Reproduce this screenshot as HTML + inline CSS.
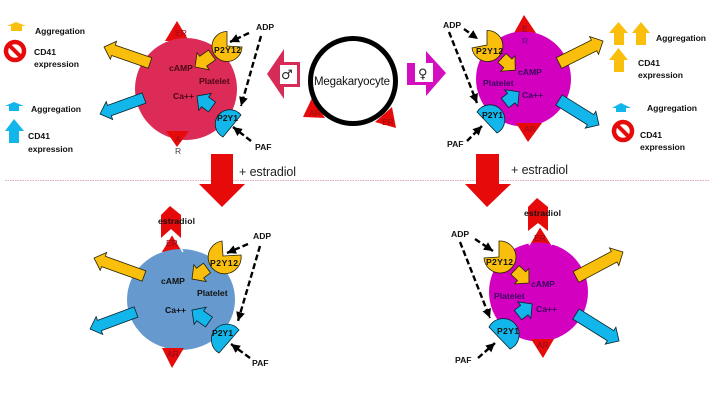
<!DOCTYPE html>
<html><head><meta charset="utf-8"><style>
html,body{margin:0;padding:0;background:#fff}
svg{display:block;font-family:"Liberation Sans",sans-serif}
.b{font-weight:bold;font-size:8.6px;fill:#111}
.m{font-weight:bold;font-size:8.6px}
.y{fill:#F9BF0C;stroke:#2a2200;stroke-width:.8}
.c{fill:#12B6EA;stroke:#06222e;stroke-width:.8}
.d{fill:none;stroke:#000;stroke-width:2.4;stroke-dasharray:6 3;marker-end:url(#h)}
.t{fill:#E60A0A}
</style></head><body>
<svg width="720" height="404" viewBox="0 0 720 404" xmlns="http://www.w3.org/2000/svg">
<defs><marker id="h" markerUnits="userSpaceOnUse" markerWidth="10" markerHeight="10" refX="9" refY="4.5" orient="auto"><path d="M0,0L9,4.5L0,9z" fill="#000"/></marker></defs>
<rect width="720" height="404" fill="#fff"/>
<line x1="5" y1="180.5" x2="709" y2="180.5" stroke="#D8939F" stroke-width=".8" stroke-dasharray="1.5 1"/>

<!-- central red arrows -->
<polygon class="t" points="211,154 233,154 233,184 245,184 222,207 199,184 211,184"/>
<polygon class="t" points="476,154 499,154 499,184 511,184 487,207 465,184 476,184"/>
<text x="239" y="176" font-size="12.5" fill="#222" textLength="57">+ estradiol</text>
<text x="511" y="174" font-size="12.5" fill="#222" textLength="57">+ estradiol</text>

<!-- Megakaryocyte -->
<polygon class="t" points="303,117 312,98 325,118"/>
<polygon class="t" points="396,128 392,107 375,122"/>
<circle cx="353" cy="81" r="42.5" fill="#fff" stroke="#000" stroke-width="5"/>
<text x="314" y="85" font-size="11.5" fill="#111" textLength="76">Megakaryocyte</text>
<text x="309" y="116" font-size="8.5" fill="#9c0a0a">AR</text>
<text x="382" y="125" font-size="8.5" fill="#9c0a0a">ER</text>

<polygon fill="#D62B57" points="267,74 284,49 284,62 300,62 300,87 284,87 284,99"/>
<rect x="280" y="65" width="17" height="19" fill="#fff"/>
<text x="281" y="79" font-size="13" fill="#222" font-family="DejaVu Sans">♂</text>
<polygon fill="#D40FC0" points="446,73 426,51 426,63 407,63 407,85 426,85 426,96"/>
<rect x="415" y="63" width="18" height="19" fill="#fff"/>
<text x="418" y="78" font-size="13" fill="#222" font-family="DejaVu Sans">♀</text>

<!-- TOP LEFT -->
<polygon class="t" points="177,21 165,41 189,41"/>
<circle cx="186" cy="89" r="51" fill="#DC2B57"/>
<polygon class="t" points="177,147 166,131 189,131"/>
<text x="175" y="36" font-size="8.6" fill="#9c0a20">ER</text>
<text x="175" y="142" font-size="8.6" fill="#9c0a20">A</text>
<text x="175" y="154" font-size="8.5" fill="#444">R</text>
<polygon class="y" transform="translate(150,63) rotate(199.2)" points="0,-5.5 38.7,-5.5 38.7,-9.5 48.7,0 38.7,9.5 38.7,5.5 0,5.5"/>
<polygon class="c" transform="translate(144,98) rotate(160)" points="0,-5.5 36.8,-5.5 36.8,-9.5 46.8,0 36.8,9.5 36.8,5.5 0,5.5"/>
<polygon class="y" transform="translate(212,55) rotate(144.8)" points="0,-6 10.8,-6 10.8,-10.5 20.8,0 10.8,10.5 10.8,6 0,6"/>
<polygon class="c" transform="translate(212,107) rotate(216.3)" points="0,-6 8.6,-6 8.6,-10.5 18.6,0 8.6,10.5 8.6,6 0,6"/>
<path class="y" d="M227,46 L227,31.5 A15,15 0 1 0 242,47 Z"/>
<path class="c" d="M241,115 A14.5,14.5 0 1 0 223,137 Z"/>
<line class="d" x1="249" y1="33" x2="230" y2="42"/>
<line class="d" x1="261" y1="36" x2="241" y2="106"/>
<line class="d" x1="251" y1="141" x2="233" y2="127"/>
<text x="169" y="71" class="m" fill="#4a0616">cAMP</text>
<text x="199" y="84" class="m" fill="#4a0616">Platelet</text>
<text x="173" y="99" class="m" fill="#4a0616">Ca++</text>
<text x="214" y="53" class="b" textLength="27">P2Y12</text>
<text x="217" y="121" class="b" textLength="21">P2Y1</text>
<text x="256" y="30" class="b">ADP</text>
<text x="255" y="150" class="b">PAF</text>

<!-- legend left -->
<polygon fill="#F9BF0C" points="16,22 26,26 22,26 22,31 11,31 11,26 7,26"/>
<text x="35" y="34" class="b" textLength="50">Aggregation</text>
<circle cx="15" cy="51" r="9" fill="#fff" stroke="#E60A0A" stroke-width="4.5"/>
<line x1="9" y1="45" x2="21" y2="57" stroke="#E60A0A" stroke-width="4"/>
<text x="34" y="55" class="b">CD41</text>
<text x="34" y="67" class="b" textLength="45">expression</text>
<polygon fill="#12B6EA" points="14,102 24,106 19,106 19,111 9,111 9,106 5,106"/>
<text x="31" y="112" class="b" textLength="50">Aggregation</text>
<polygon fill="#12B6EA" points="14,119 24,131 19,131 19,143 9,143 9,131 5,131"/>
<text x="28" y="139" class="b">CD41</text>
<text x="28" y="152" class="b" textLength="45">expression</text>

<!-- TOP RIGHT -->
<polygon class="t" points="524,15 514,33 536,33"/>
<circle cx="523.5" cy="79" r="47.5" fill="#D300BF"/>
<polygon class="t" points="528,142 516,123 542,123"/>
<text x="522" y="32" font-size="8.5" fill="#8a0a40">E</text>
<text x="522" y="44" font-size="8.5" fill="#5a0a80">R</text>
<text x="524" y="132" font-size="8.5" fill="#9c0a20">AR</text>
<polygon class="y" transform="translate(559,63) rotate(-26.6)" points="0,-6 39.2,-6 39.2,-10 49.2,0 39.2,10 39.2,6 0,6"/>
<polygon class="c" transform="translate(559,100) rotate(32)" points="0,-6 37.2,-6 37.2,-10 47.2,0 37.2,10 37.2,6 0,6"/>
<polygon class="y" transform="translate(502,58) rotate(42.7)" points="0,-6 8,-6 8,-10.5 18,0 8,10.5 8,6 0,6"/>
<polygon class="c" transform="translate(505,103) rotate(-38.2)" points="0,-6 8,-6 8,-10.5 18,0 8,10.5 8,6 0,6"/>
<path class="y" d="M487,45 L487,30.5 A15.5,15.5 0 1 1 472,48 Z"/>
<path class="c" d="M477,112 A15,15 0 1 1 497,133 Z"/>
<line class="d" x1="464" y1="29" x2="478" y2="39"/>
<line class="d" x1="449" y1="32" x2="477" y2="103"/>
<line class="d" x1="467" y1="141" x2="482" y2="126"/>
<text x="518" y="75" class="m" fill="#3a0060">cAMP</text>
<text x="483" y="86" class="m" fill="#3a0060">Platelet</text>
<text x="522" y="98" class="m" fill="#3a0060">Ca++</text>
<text x="476" y="54" class="b" textLength="27">P2Y12</text>
<text x="482" y="118" class="b" textLength="21">P2Y1</text>
<text x="443" y="28" class="b">ADP</text>
<text x="447" y="147" class="b">PAF</text>

<!-- legend right -->
<polygon fill="#F9BF0C" points="618.5,22 628,33 624,33 624,45 614,45 614,33 609,33"/>
<polygon fill="#F9BF0C" points="641,22 650,33 646,33 646,45 636,45 636,33 632,33"/>
<polygon fill="#F9BF0C" points="618.5,48 628,60 624,60 624,72 614,72 614,60 609,60"/>
<text x="656" y="41" class="b" textLength="50">Aggregation</text>
<text x="638" y="66" class="b">CD41</text>
<text x="638" y="78" class="b" textLength="45">expression</text>
<polygon fill="#12B6EA" points="621,103 631,108 626,108 626,112 616,112 616,108 612,108"/>
<text x="647" y="111" class="b" textLength="50">Aggregation</text>
<circle cx="623" cy="131" r="9" fill="#fff" stroke="#E60A0A" stroke-width="4.5"/>
<line x1="617" y1="125" x2="629" y2="137" stroke="#E60A0A" stroke-width="4"/>
<text x="640" y="138" class="b">CD41</text>
<text x="640" y="150" class="b" textLength="45">expression</text>

<!-- BOTTOM LEFT -->
<polygon class="t" points="172,234 161,252 183,252"/>
<ellipse cx="181" cy="299.5" rx="54" ry="50.5" fill="#6699CE"/>
<polygon class="t" points="172,368 162,348 184,348"/>
<polygon class="t" points="170,206 181,215 181,238 171,229 161,238 161,215"/>
<polyline points="161,252 172,234 183,252" fill="none" stroke="#fff" stroke-width="1.5"/>
<text x="158" y="224" class="b" textLength="37">estradiol</text>
<text x="166" y="246" font-size="8.5" fill="#8a0a20">ER</text>
<text x="167" y="357" font-size="8.5" fill="#8a0a20">AR</text>
<polygon class="y" transform="translate(144,276) rotate(199.8)" points="0,-5.5 43.1,-5.5 43.1,-9.5 53.1,0 43.1,9.5 43.1,5.5 0,5.5"/>
<polygon class="c" transform="translate(136,312) rotate(159.7)" points="0,-5.5 39,-5.5 39,-9.5 49,0 39,9.5 39,5.5 0,5.5"/>
<polygon class="y" transform="translate(207,268) rotate(143.7)" points="0,-6 8.6,-6 8.6,-10.5 18.6,0 8.6,10.5 8.6,6 0,6"/>
<polygon class="c" transform="translate(209,322) rotate(215)" points="0,-6 10.8,-6 10.8,-10.5 20.8,0 10.8,10.5 10.8,6 0,6"/>
<path class="y" d="M223,256 L222,241 A16.5,16.5 0 1 0 241,255 Z"/>
<path class="c" d="M239,330 A15.5,15.5 0 1 0 219,353 Z"/>
<line class="d" x1="248" y1="244" x2="227" y2="253"/>
<line class="d" x1="260" y1="246" x2="238" y2="321"/>
<line class="d" x1="250" y1="358" x2="231" y2="344"/>
<text x="161" y="284" class="b">cAMP</text>
<text x="197" y="296" class="b">Platelet</text>
<text x="165" y="313" class="b">Ca++</text>
<text x="210" y="266" class="b" textLength="28">P2Y12</text>
<text x="212" y="336" class="b" textLength="21">P2Y1</text>
<text x="253" y="239" class="b">ADP</text>
<text x="252" y="366" class="b">PAF</text>

<!-- BOTTOM RIGHT -->
<polygon class="t" points="540,226 529,245 552,245"/>
<circle cx="538.5" cy="292" r="49.5" fill="#D300BF"/>
<polygon class="t" points="543,358 531,339 554,339"/>
<polygon class="t" points="537,198 548,207 548,231 538,223 528,231 528,207"/>
<polyline points="529,245 540,226 552,245" fill="none" stroke="#fff" stroke-width="1.5"/>
<text x="524" y="216" class="b" textLength="37">estradiol</text>
<text x="534" y="241" font-size="8.5" fill="#8a0a20">ER</text>
<text x="537" y="348" font-size="8.5" fill="#8a0a20">AR</text>
<polygon class="y" transform="translate(576,277) rotate(-28)" points="0,-6 43.2,-6 43.2,-10 53.2,0 43.2,10 43.2,6 0,6"/>
<polygon class="c" transform="translate(576,314) rotate(32.1)" points="0,-6 40.8,-6 40.8,-10 50.8,0 40.8,10 40.8,6 0,6"/>
<polygon class="y" transform="translate(515,270) rotate(42.9)" points="0,-6 9.1,-6 9.1,-10.5 19.1,0 9.1,10.5 9.1,6 0,6"/>
<polygon class="c" transform="translate(518,315) rotate(-38)" points="0,-6 8,-6 8,-10.5 18,0 8,10.5 8,6 0,6"/>
<path class="y" d="M499,257 L499,241 A16,16 0 1 1 484,258 Z"/>
<path class="c" d="M489,327 A16,16 0 1 1 510,349 Z"/>
<line class="d" x1="475" y1="239" x2="493" y2="251"/>
<line class="d" x1="460" y1="242" x2="490" y2="318"/>
<line class="d" x1="478" y1="358" x2="495" y2="343"/>
<text x="531" y="287" class="m" fill="#3a0060">cAMP</text>
<text x="494" y="299" class="m" fill="#3a0060">Platelet</text>
<text x="536" y="312" class="m" fill="#3a0060">Ca++</text>
<text x="486" y="265" class="b" textLength="27">P2Y12</text>
<text x="497" y="334" class="b" textLength="22">P2Y1</text>
<text x="451" y="237" class="b">ADP</text>
<text x="455" y="363" class="b">PAF</text>
</svg>
</body></html>
